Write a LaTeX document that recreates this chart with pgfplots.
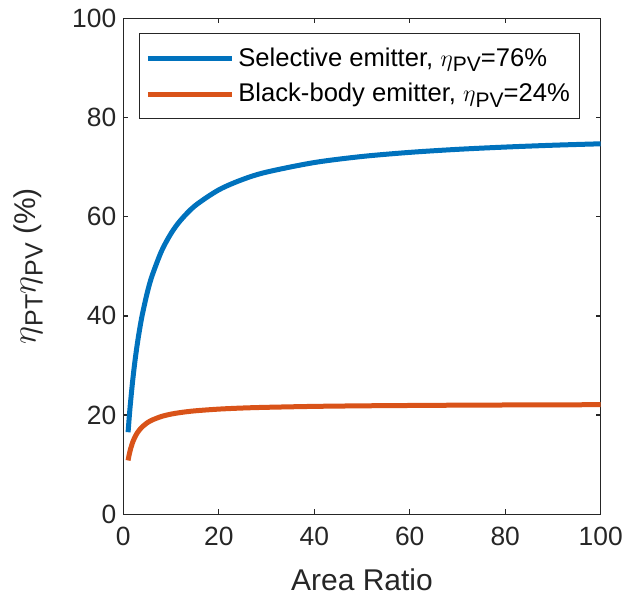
\documentclass[border=0pt]{standalone}
\usepackage{fontspec}
\setmainfont{Liberation Sans}
\usepackage{pgfplots}
\pgfplotsset{compat=1.18}
\definecolor{mblue}{rgb}{0,0.447,0.741}
\definecolor{morange}{rgb}{0.85,0.325,0.098}
\definecolor{axgray}{rgb}{0.15,0.15,0.15}
\newcommand{\legsub}[1]{\raisebox{-2.8pt}{\fontsize{10.5}{12}\selectfont #1}}
\newcommand{\labsub}[1]{\raisebox{-3.5pt}{\fontsize{12.5}{14}\selectfont #1}}
\newcommand{\leta}{{\fontsize{13}{15}\selectfont$\eta$}}
\newcommand{\bigeta}{{\fontsize{16.5}{18}\selectfont$\eta$}}
\begin{document}
\begin{tikzpicture}
\useasboundingbox (-61.65pt,-40.85pt) rectangle (251.35pt,257.15pt);
\begin{axis}[
  at={(0,0)}, anchor=south west,
  scale only axis,
  width=238.7pt, height=248pt,
  xmin=0, xmax=100, ymin=0, ymax=100,
  xtick={0,20,...,100}, ytick={0,20,...,100},
  xtick pos=both, ytick pos=both,
  tick align=inside,
  major tick length=2.5pt,
  axis line style={axgray, line width=0.7pt},
  every tick/.style={axgray, line width=0.7pt},
  tick label style={font=\fontsize{13.2}{15}\selectfont, text=axgray},
  xticklabel style={yshift=-3pt},
  /pgf/number format/assume math mode=true,
  label style={font=\fontsize{15}{17}\selectfont, text=axgray},
  xlabel={Area Ratio},
  ylabel={\bigeta\labsub{PT}\bigeta\labsub{PV} (\%)},
  xlabel style={at={(axis description cs:0.5,-0.1325)}, anchor=center},
  ylabel style={at={(axis description cs:-0.199,0.5)}, anchor=center},
  legend cell align=left,
  legend style={at={(0.0329,0.9698)}, anchor=north west,
    font=\fontsize{12.8}{15}\selectfont, draw=axgray, line width=0.4pt,
    inner xsep=3pt, inner ysep=5pt, row sep=3pt},
  legend image code/.code={\draw[#1] (0pt,0pt) -- (42pt,0pt);},
]
\addplot[mblue, line width=2.5pt, smooth] coordinates {
(1,16.55) (1.25,19.64) (1.5,22.43) (2,27.27) (2.5,31.33) (3,34.78) (3.5,37.75)
(4,40.34) (5,44.61) (6,48.01) (8,53.05) (10,56.62) (12,59.27) (15,62.19)
(20,65.41) (25,67.51) (30,68.99) (40,70.92) (50,72.14) (60,72.97) (70,73.58)
(80,74.04) (90,74.41) (100,74.70)};
\addlegendentry{Selective emitter, \leta\legsub{PV}=76\%}
\addplot[morange, line width=2.5pt, smooth] coordinates {
(1,10.86) (1.25,12.10) (1.5,13.10) (2,14.61) (2.5,15.70) (3,16.52) (3.5,17.15)
(4,17.67) (5,18.44) (6,18.99) (8,19.73) (10,20.20) (12,20.52) (15,20.86)
(20,21.21) (25,21.43) (30,21.57) (40,21.76) (50,21.87) (60,21.94) (70,22.00)
(80,22.04) (90,22.07) (100,22.10)};
\addlegendentry{Black-body emitter, \leta\legsub{PV}=24\%}
\end{axis}
\end{tikzpicture}
\end{document}
